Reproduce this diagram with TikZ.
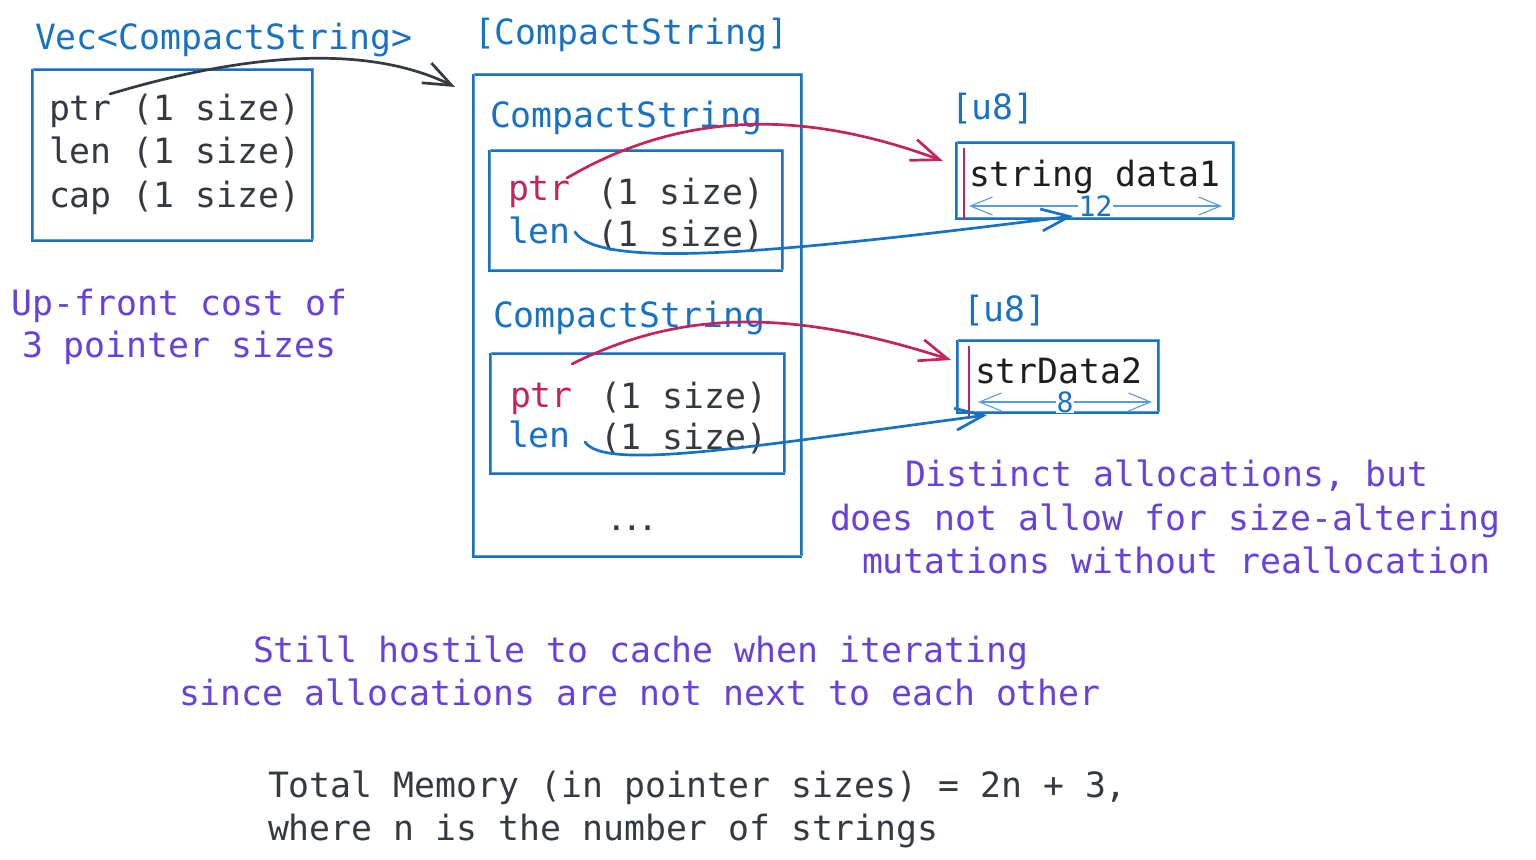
\documentclass[tikz,border=0pt]{standalone}
\usepackage{fontspec}
\newfontfamily\mono{DejaVu Sans Mono}
\usetikzlibrary{arrows.meta,calc}
\definecolor{cblue}{HTML}{1971C2}
\definecolor{cred}{HTML}{C2255C}
\definecolor{cviolet}{HTML}{6741D9}
\definecolor{cdark}{HTML}{343A40}
\definecolor{cblack}{HTML}{1E1E1E}
\definecolor{clight}{HTML}{5A9BDC}
\begin{document}
\begin{tikzpicture}[x=1pt,y=-1pt,
  every node/.style={inner sep=0pt, outer sep=0pt},
  txt/.style={anchor=base west, font=\mono\fontsize{34.8}{43.5}\selectfont, text=cdark},
  bluetxt/.style={txt, text=cblue},
  redtxt/.style={txt, text=cred},
  viotxt/.style={txt, text=cviolet},
  datatxt/.style={txt, text=cblack},
  sbox/.style={draw=cblue, line width=1.1pt, rectangle,
    postaction={draw=clight, line width=0.9pt, transform canvas={shift={(1.8pt,2pt)}}}},
  conn/.style={line width=2.7pt, line cap=round,
    -{Straight Barb[length=28pt,width=22pt,line width=2.7pt]}},
  dimline/.style={draw=clight, line width=1.1pt,
    {Straight Barb[length=22pt,width=18pt,line width=1.1pt]}-{Straight Barb[length=22pt,width=18pt,line width=1.1pt]}},
  dimlab/.style={font=\mono\fontsize{28}{30}\selectfont, text=cblue, fill=white, inner xsep=1pt}
]
\useasboundingbox (0,0) rectangle (1536,859);

% ---- Vec box ----
\node[bluetxt] (veclab) at (35,49) {Vec<CompactString>};
\node[sbox, minimum width=280pt, minimum height=171pt] (vec) at (172,155.5) {};
\node[txt] (vptr) at (49,120) {ptr (1 size)};
\node[txt] (vlen) at (49,163) {len (1 size)};
\node[txt] (vcap) at (49,207) {cap (1 size)};

% ---- CompactString slice ----
\node[bluetxt] (slicelab) at (474,45) {[CompactString]};
\node[sbox, minimum width=328pt, minimum height=482pt] (outer) at (637,316) {};

\node[bluetxt] (cs1lab) at (490,127) {CompactString};
\node[sbox, minimum width=293pt, minimum height=120pt] (in1) at (635.5,211) {};
\node[redtxt] (p1) at (508,200) {ptr};
\node[txt] (p1s) at (597,204) {(1 size)};
\node[bluetxt] (l1) at (508,243) {len};
\node[txt] (l1s) at (597,246) {(1 size)};

\node[bluetxt] (cs2lab) at (493,327) {CompactString};
\node[sbox, minimum width=294pt, minimum height=120pt] (in2) at (637,414) {};
\node[redtxt] (p2) at (510,407) {ptr};
\node[txt] (p2s) at (600,408) {(1 size)};
\node[bluetxt] (l2) at (508,447) {len};
\node[txt] (l2s) at (600,449) {(1 size)};

\node[anchor=base, font=\mono\bfseries\fontsize{26}{28}\selectfont, text=cdark] (dots) at (632,530) {...};

% ---- u8 data 1 ----
\node[bluetxt] (u8a) at (951,119) {[u8]};
\node[sbox, minimum width=277pt, minimum height=76pt] (d1) at (1094.5,181) {};
\draw[cred, line width=2pt] (964,148) coordinate (r1top) -- (964,220) coordinate (r1bot);
\node[datatxt] (s1) at (969,186) {string data1};
\coordinate (d1l) at (969,206);
\coordinate (d1r) at (1222,206);
\draw[dimline] (d1l) -- (d1r) node[midway, dimlab] (n12) {12};

% ---- u8 data 2 ----
\node[bluetxt] (u8b) at (963,321) {[u8]};
\node[sbox, minimum width=201pt, minimum height=72pt] (d2) at (1057.5,377) {};
\draw[cred, line width=2pt] (969,346) coordinate (r2top) -- (969,416) coordinate (r2bot);
\node[datatxt] (s2) at (975,383) {strData2};
\coordinate (d2l) at (978,402);
\coordinate (d2r) at (1152,402);
\draw[dimline] (d2l) -- (d2r) node[midway, dimlab] (n8) {8};

% ---- connectors ----
\coordinate (a0s) at (110,94);
\coordinate (a0e) at (455,87);
\draw[conn, cdark] (a0s) .. controls (230,58) and (360,40) .. (a0e);

\coordinate (r1s) at (567,178);
\coordinate (r1e) at (943,161);
\draw[conn, cred] (r1s) .. controls (680,112) and (800,108) .. (r1e);

\coordinate (b1s) at (575,232);
\coordinate (b1e) at (1073,216);
\draw[conn, cblue] (b1s) .. controls (600,272) and (800,250) .. (b1e);

\coordinate (r2s) at (572,364);
\coordinate (r2e) at (951,360);
\draw[conn, cred] (r2s) .. controls (680,310) and (790,308) .. (r2e);

\coordinate (b2s) at (585,442);
\coordinate (b2e) at (987,415);
\draw[conn, cblue] (b2s) .. controls (605,472) and (760,445) .. (b2e);

% ---- annotations ----
\node[viotxt] (up1) at (12,315) {Up-front cost of};
\node[viotxt] (up2) at (22,357) {3 pointer sizes};

\node[viotxt] (di1) at (905,486) {Distinct allocations, but};
\node[viotxt] (di2) at (830,530) {does not allow for size-altering};
\node[viotxt] (di3) at (862,573) {mutations without reallocation};

\node[viotxt] (st1) at (253,662) {Still hostile to cache when iterating};
\node[viotxt] (st2) at (179,705) {since allocations are not next to each other};

\node[txt] (tm1) at (268,797) {Total Memory (in pointer sizes) = 2n + 3,};
\node[txt] (tm2) at (268,840) {where n is the number of strings};
\end{tikzpicture}
\end{document}
